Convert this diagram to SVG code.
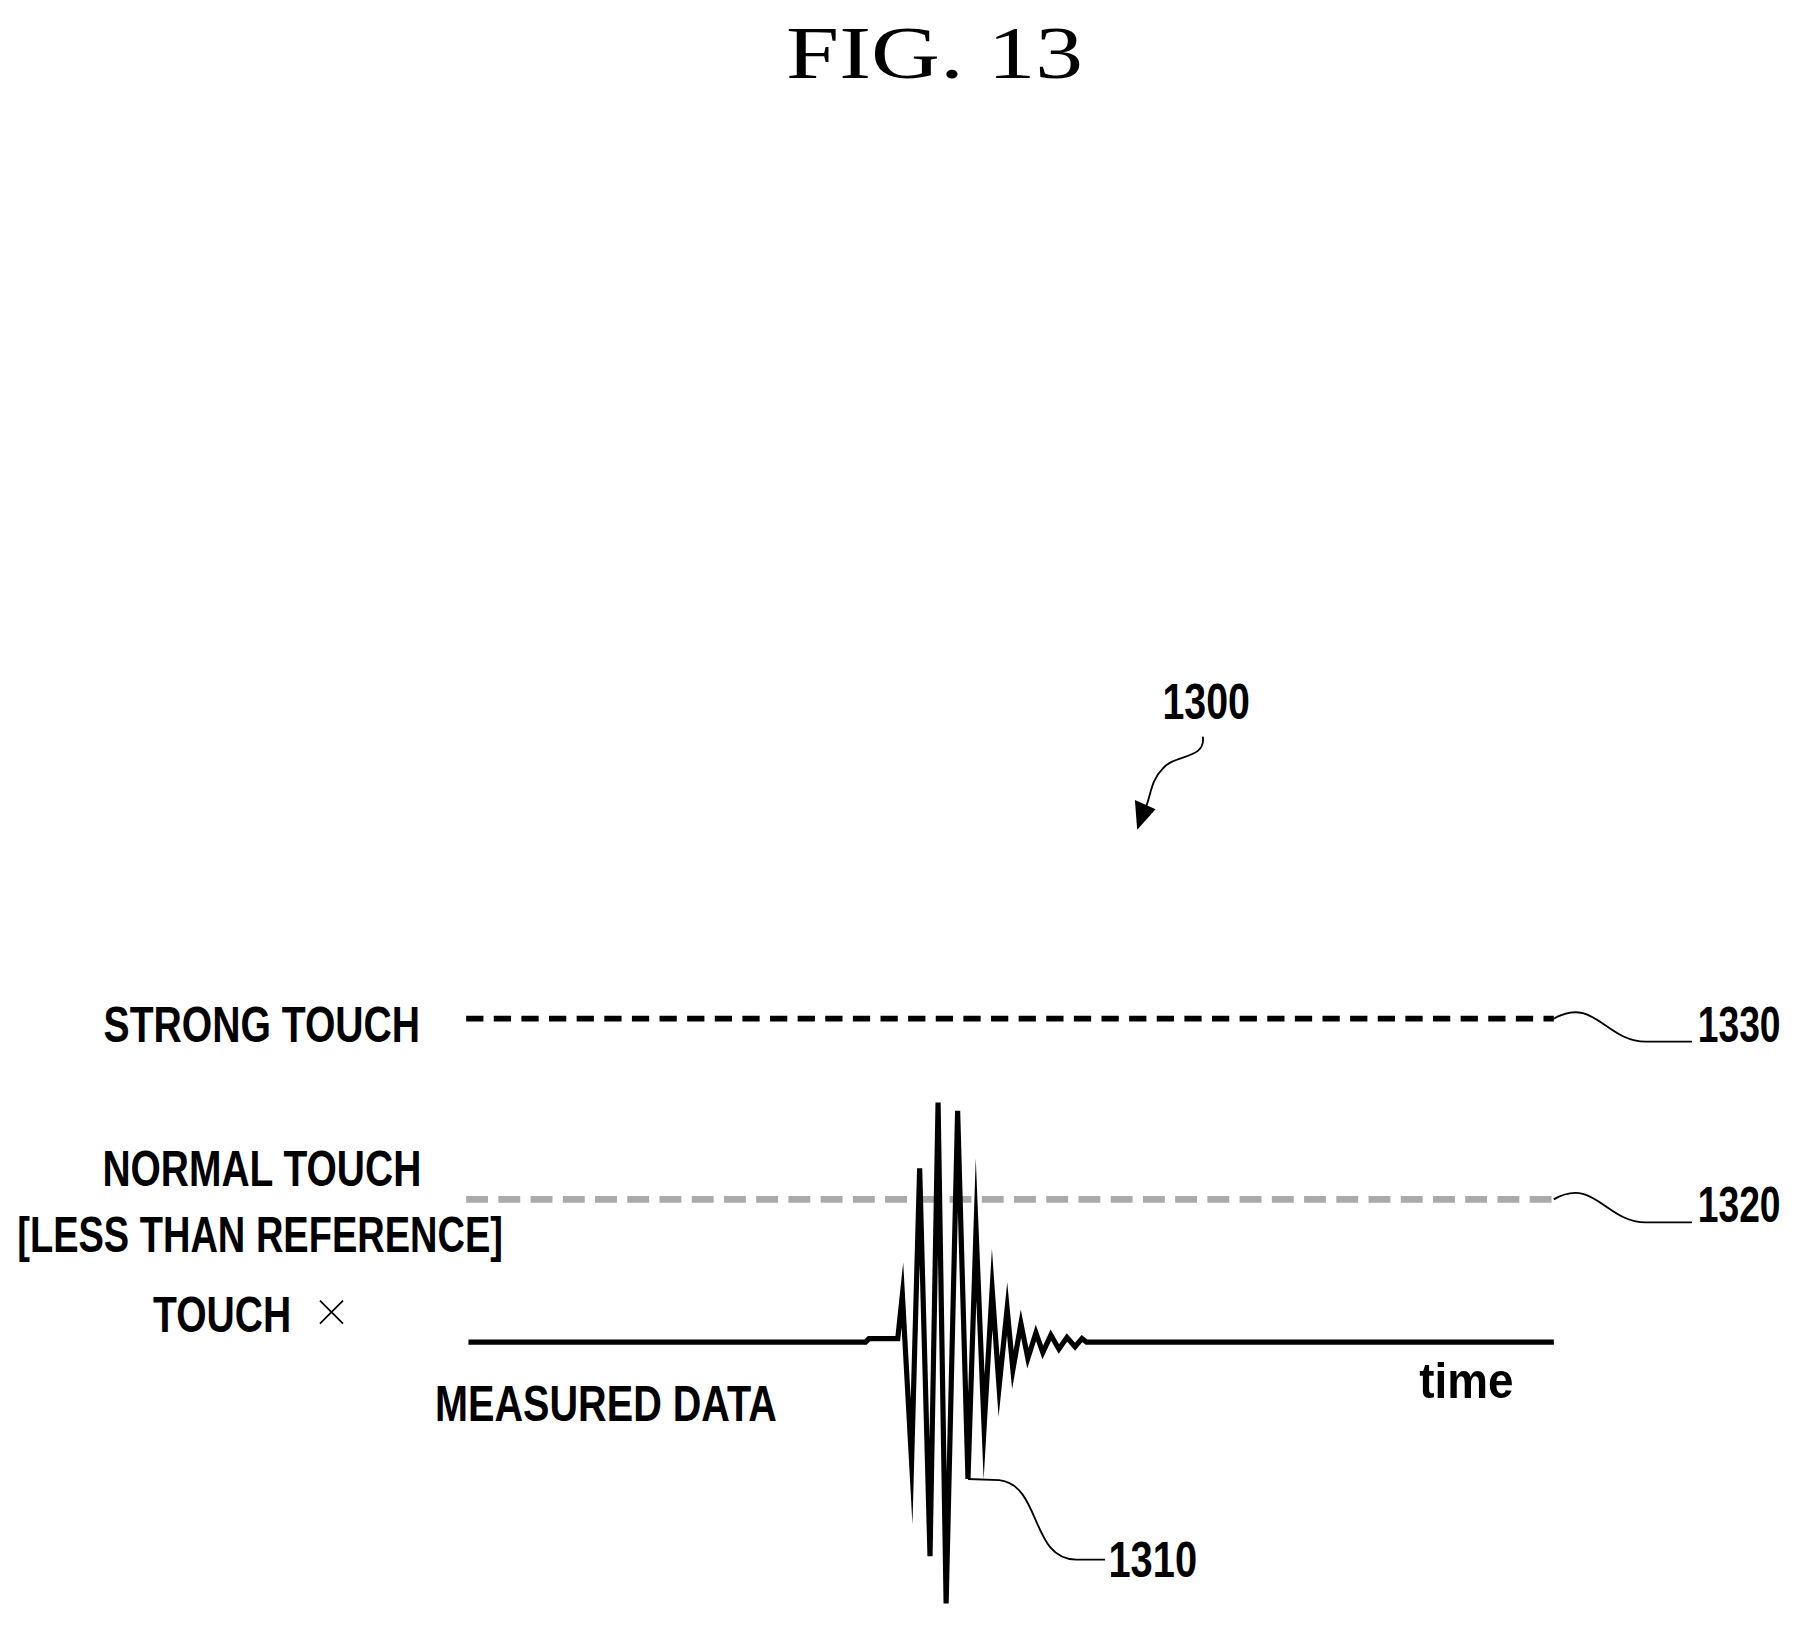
<svg xmlns="http://www.w3.org/2000/svg" width="1805" height="1627" viewBox="0 0 1805 1627">
<style>
.l{font-family:"Liberation Sans",Arial,sans-serif;font-weight:bold;font-size:44px;fill:#000}
.n{font-family:"Liberation Sans",Arial,sans-serif;font-weight:bold;font-size:44px;fill:#000}
.w{fill:none;stroke:#000;stroke-width:1.6}
</style>
<rect width="1805" height="1627" fill="#fff"/>
<g transform="scale(1.151)">
<text id="title" x="812" y="68" text-anchor="middle" font-family="Liberation Serif,serif" font-size="64" textLength="258" lengthAdjust="spacingAndGlyphs">FIG.  13</text>
<g id="n1300"><text class="n" x="1010" y="625" textLength="76" lengthAdjust="spacingAndGlyphs">1300</text></g>
<g id="n1330"><text class="n" x="1475" y="905" textLength="72" lengthAdjust="spacingAndGlyphs">1330</text></g>
<g id="n1320"><text class="n" x="1475" y="1062" textLength="72" lengthAdjust="spacingAndGlyphs">1320</text></g>
<g id="n1310"><text class="n" x="963" y="1370" textLength="77" lengthAdjust="spacingAndGlyphs">1310</text></g>
<g id="labels">
<text class="l" x="90" y="905" textLength="275" lengthAdjust="spacingAndGlyphs">STRONG TOUCH</text>
<text class="l" x="89" y="1030" textLength="277" lengthAdjust="spacingAndGlyphs">NORMAL TOUCH</text>
<text class="l" x="15" y="1088" textLength="422" lengthAdjust="spacingAndGlyphs">[LESS THAN REFERENCE]</text>
<text class="l" x="133" y="1157" textLength="120" lengthAdjust="spacingAndGlyphs">TOUCH</text>
<path d="M278 1130 L298 1150 M298 1130 L278 1150" stroke="#000" stroke-width="1.5"/>
<text class="l" x="378" y="1235" textLength="297" lengthAdjust="spacingAndGlyphs">MEASURED DATA</text>
<text class="l" x="1233" y="1215" textLength="82" lengthAdjust="spacingAndGlyphs">time</text>
</g>
<g id="connectors">
<line x1="405" y1="885" x2="1350" y2="885" stroke="#000" stroke-width="5" stroke-dasharray="15,9"/>
<line x1="405" y1="1042" x2="1350" y2="1042" stroke="#aaa" stroke-width="6" stroke-dasharray="19,9"/>
<path d="M407 1166 L752 1166 L755 1163 L780 1163 L784 1125 L792 1270 L799 1015 L808 1352 L815 958 L822 1393 L832 965 L841 1285 L848 1068 L855 1240 L862 1120 L868 1205 L875 1137 L880 1190 L887 1150 L893 1180 L900 1158 L906 1175 L913 1160 L920 1172 L927 1162 L934 1170 L940 1163 L944 1166 L1350 1166" fill="none" stroke="#000" stroke-width="4.5" stroke-linejoin="miter" stroke-miterlimit="30"/>
<path class="w" d="M841 1285 L868 1286 C905 1290 895 1355 935 1355 L960 1355"/>
<path class="w" d="M1350 885 C1385 865 1395 905 1430 905 L1470 905"/>
<path class="w" d="M1350 1042 C1385 1022 1395 1062 1430 1062 L1470 1062"/>
<path class="w" d="M1045 640 C1048 660 1020 655 1010 668 C1000 678 1000 690 996 700"/>
<path d="M988 721 L986 695 L1004 703 Z" fill="#000"/>
</g>
</g>
</svg>
